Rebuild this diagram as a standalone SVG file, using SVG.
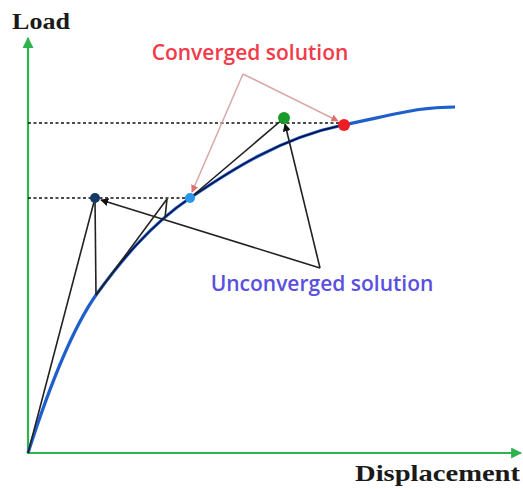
<svg xmlns="http://www.w3.org/2000/svg" width="523" height="489" viewBox="0 0 523 489">
<style>
.axis{stroke:#2eb34f;stroke-width:2.2;fill:none}
.dash{stroke:#111;stroke-width:1.6;stroke-dasharray:3,2.5;fill:none}
.blk{stroke:#222;stroke-width:1.6;fill:none}
.pink{stroke:#d9a7a7;stroke-width:1.5;fill:none}
.serif{font-family:"Liberation Serif","DejaVu Serif",serif;font-weight:bold;font-size:24px;fill:#1a1a1a}
.lbl{font-family:"Open Sans","Liberation Sans",sans-serif;font-weight:600;font-size:21px}
</style>
<defs>
<marker id="ag" viewBox="0 0 10 10" refX="9" refY="5" markerWidth="5" markerHeight="5" orient="auto"><path d="M0,0L10,5L0,10z" fill="#2eb34f"/></marker>
<marker id="ab" viewBox="0 0 10 10" refX="9" refY="5" markerWidth="5" markerHeight="5" orient="auto"><path d="M0,0L10,5L0,10z" fill="#111"/></marker>
<marker id="ap" viewBox="0 0 10 10" refX="9" refY="5" markerWidth="5" markerHeight="5" orient="auto"><path d="M0,0L10,5L0,10z" fill="#e07070"/></marker>
</defs>
<g id="axes">
<line class="axis" x1="28" y1="454" x2="28" y2="38" marker-end="url(#ag)"/>
<line class="axis" x1="27" y1="453" x2="521" y2="453" marker-end="url(#ag)"/>
</g>
<g id="curve">
<path d="M28,453 C45,400 68,335 96,295 C120,262 150,225 190,198 C230,171 280,138 343,125 C406,112 420,107 455,107" stroke="#1f5fcc" stroke-width="3.2" fill="none"/>
<path d="M96,295 C120,262 150,225 190,198 C230,171 280,138 343,125" stroke="#0a0a3a" stroke-width="1.3" fill="none"/>
</g>
<g id="connectors">
<line class="dash" x1="28" y1="123" x2="340" y2="123"/>
<line class="dash" x1="28" y1="198" x2="188" y2="198"/>
<line class="blk" x1="28" y1="453" x2="95" y2="198"/>
<line class="blk" x1="95" y1="198" x2="96" y2="295"/>
<line class="blk" x1="96" y1="295" x2="167" y2="199"/>
<line class="blk" x1="167" y1="199" x2="165" y2="218"/>
<line class="blk" x1="190" y1="198" x2="283" y2="119"/>
<line class="blk" x1="320" y1="268" x2="101" y2="200" marker-end="url(#ab)"/>
<line class="blk" x1="320" y1="268" x2="285" y2="124" marker-end="url(#ab)"/>
<line class="pink" x1="243" y1="74" x2="192" y2="192" marker-end="url(#ap)"/>
<line class="pink" x1="243" y1="74" x2="338" y2="121" marker-end="url(#ap)"/>
</g>
<g id="p1"><circle cx="95" cy="198" r="5" fill="#123a66"/></g>
<g id="p2"><circle cx="190" cy="198" r="5" fill="#2a98e8"/></g>
<g id="p3"><circle cx="284" cy="118" r="6" fill="#1a9a2a"/></g>
<g id="p4"><circle cx="344" cy="125" r="6" fill="#ee1c24"/></g>
<g id="labels">
<text class="serif" x="12" y="29" textLength="58" lengthAdjust="spacingAndGlyphs">Load</text>
<text class="serif" x="355" y="481" textLength="165" lengthAdjust="spacingAndGlyphs">Displacement</text>
<text class="lbl" x="250" y="60" fill="#f23a4a" text-anchor="middle">Converged solution</text>
<text class="lbl" x="322" y="291" fill="#5a4fe0" text-anchor="middle">Unconverged solution</text>
</g>
</svg>
